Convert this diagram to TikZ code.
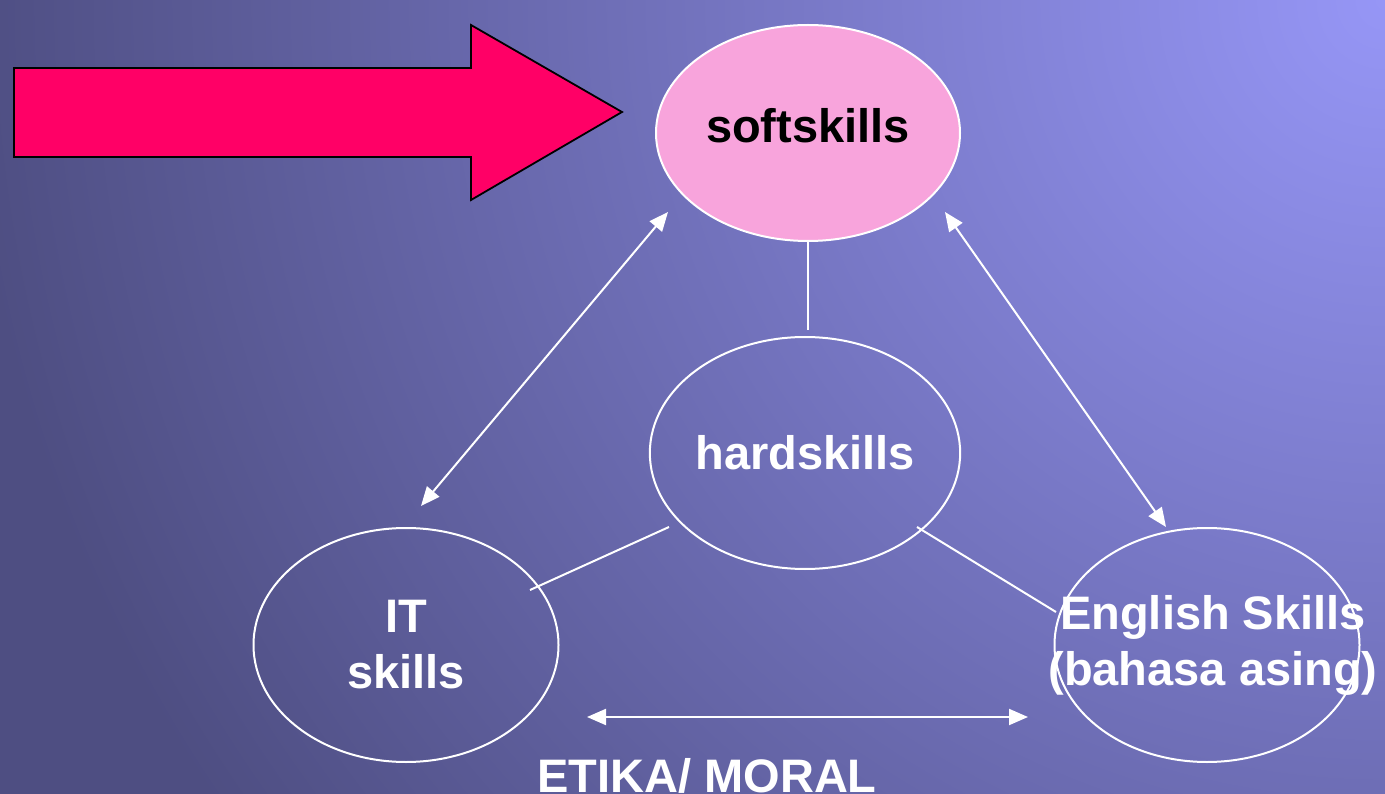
\documentclass[tikz,border=0pt]{standalone}
\usepackage{fontspec}
\setmainfont{Liberation Sans}
\usetikzlibrary{shapes.geometric,arrows.meta}
\definecolor{bgin}{HTML}{9696F6}
\definecolor{bgout}{HTML}{4E4E82}
\definecolor{softpink}{HTML}{F8A4DC}
\definecolor{arrowred}{HTML}{FF0066}
\begin{document}
\begin{tikzpicture}[x=1pt,y=-1pt,
  bubble/.style={ellipse, draw=white, line width=2pt, inner sep=0pt,
    minimum width=305pt, minimum height=234pt, text=white, align=center,
    font=\fontsize{47}{56}\selectfont\bfseries},
  label text/.style={text=white, font=\fontsize{47}{56}\selectfont\bfseries},
  link/.style={white, line width=2pt},
  dbl/.style={link, {Triangle[length=19pt,width=16pt]}-{Triangle[length=19pt,width=16pt]}},
  bigarrow/.style={fill=arrowred, draw=black, line width=1.8pt, line join=miter}]
\useasboundingbox (0,0) rectangle (1385,794);
\begin{scope}
\clip (0,0) rectangle (1385,794);
\fill[bgout] (0,0) rectangle (1385,794);
\shade[inner color=bgin, outer color=bgout] (1385,0) circle (1420);
\end{scope}
% big red arrow
\draw[bigarrow] (14,68) -- (471,68) -- (471,25) -- (622,112) -- (471,200) -- (471,157) -- (14,157) -- cycle;
% nodes
\node[bubble, fill=softpink, text=black, minimum width=304pt, minimum height=216pt,
  text height=34pt, text depth=14pt] (soft) at (808,133) {softskills};
\node[bubble, minimum width=305pt, minimum height=232pt] (hard) at (805,453) {hardskills};
\node[bubble] (it) at (406,645) {IT\\skills};
\node[bubble] (eng) at (1207,645) {\makebox[0pt]{\hspace{12pt}English Skills}\\\makebox[0pt]{\hspace{12pt}(bahasa asing)}};
\node[label text, anchor=base] (etika) at (707,792) {ETIKA/ MORAL};
% connector end points
\coordinate (s1) at (668,212);
\coordinate (i1) at (421,506);
\coordinate (s2) at (945,212);
\coordinate (e1) at (1166,527);
\coordinate (m1) at (587,717);
\coordinate (m2) at (1028,717);
\coordinate (hs) at (808,330);
\coordinate (h1) at (669,527);
\coordinate (i2) at (530,590);
\coordinate (h2) at (917,527);
\coordinate (e2) at (1056,612);
% connectors
\draw[dbl] (s1) -- (i1);
\draw[dbl] (s2) -- (e1);
\draw[dbl] (m1) -- (m2);
\draw[link] (soft.south) -- (hs);
\draw[link] (h1) -- (i2);
\draw[link] (h2) -- (e2);
\end{tikzpicture}
\end{document}
